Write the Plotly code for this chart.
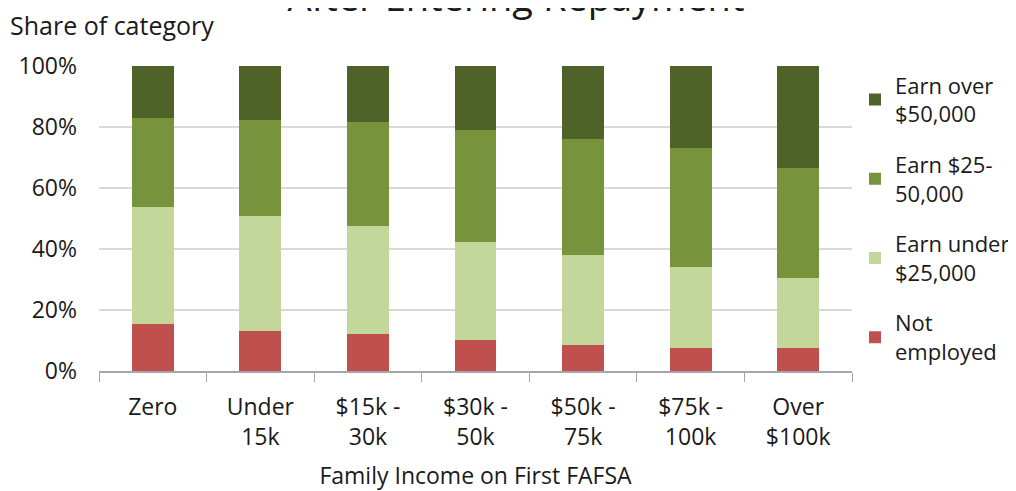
import plotly.graph_objects as go

categories = ["Zero", "Under<br>15k", "$15k -<br>30k", "$30k -<br>50k",
              "$50k -<br>75k", "$75k -<br>100k", "Over<br>$100k"]
not_employed = [15.4, 13.2, 12.0, 10.3, 8.6, 7.4, 7.4]
earn_under_25k = [38.3, 37.6, 35.4, 31.9, 29.5, 26.8, 23.1]
earn_25_50k = [29.4, 31.5, 34.4, 36.7, 38.0, 38.8, 36.1]
earn_over_50k = [16.9, 17.7, 18.2, 21.1, 23.9, 27.0, 33.4]

series_names = ["Not<br>employed", "Earn under<br>$25,000", "Earn $25-<br>50,000", "Earn over<br>$50,000"]
series_values = [not_employed, earn_under_25k, earn_25_50k, earn_over_50k]
series_colors = ["#c0504d", "#c4d79b", "#77933c", "#4f6228"]

y_tickvals = [0, 20, 40, 60, 80, 100]
y_ticktext = ["0%", "20%", "40%", "60%", "80%", "100%"]

FONT = "Open Sans"
TXT = "#1a1a1a"

fig = go.Figure()
n = len(series_names)
for i, (name, vals, col) in enumerate(zip(series_names, series_values, series_colors)):
    fig.add_trace(go.Bar(x=categories, y=vals, name=name, legendgroup=name,
                         legendrank=n - i,
                         marker=dict(color=col, line=dict(width=0))))

fig.update_layout(
    barmode="stack",
    bargap=0.61,
    width=1016, height=491,
    margin=dict(l=91, r=172, t=58, b=128, autoexpand=False),
    paper_bgcolor="white", plot_bgcolor="white",
    font=dict(family=FONT, size=23, color=TXT),
    title=dict(text="After Entering Repayment", x=0.5, xanchor="center",
               y=0.994, yref="container", yanchor="bottom",
               font=dict(family=FONT, size=38, color=TXT)),
    legend=dict(x=1.004, xanchor="left", y=1.005, yanchor="top",
                traceorder="grouped", tracegroupgap=19, maxheight=440,
                font=dict(family=FONT, size=22, color=TXT),
                itemwidth=30),
    showlegend=True,
    xaxis=dict(showline=True, linecolor="#a6a6a6", linewidth=1.5,
               ticks="outside", tickson="boundaries", ticklen=9,
               tickcolor="#a6a6a6", tickfont=dict(size=23),
               ticklabelstandoff=15, automargin=False,
               title=dict(text="Family Income on First FAFSA", standoff=17,
                          font=dict(size=23))),
    yaxis=dict(range=[0, 100], tickvals=y_tickvals, ticktext=y_ticktext,
               showgrid=True, gridcolor="#d9d9d9", gridwidth=1.5,
               zeroline=False, showline=False, ticks="", automargin=False,
               ticklabelstandoff=21, tickfont=dict(size=23)),
    annotations=[dict(text="Share of category", xref="paper", yref="paper",
                      x=0, y=1, xanchor="left", yanchor="middle",
                      xshift=-91, yshift=41, showarrow=False,
                      font=dict(family=FONT, size=25, color=TXT))],
)

fig.write_html("out.html")
